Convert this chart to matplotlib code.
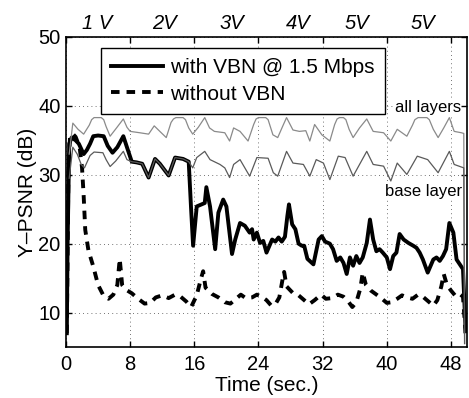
import matplotlib
matplotlib.use('Agg')
import matplotlib.pyplot as plt
from matplotlib.transforms import blended_transform_factory

plt.rcParams['font.family'] = ['Liberation Sans', 'DejaVu Sans']

# ---------------- data ----------------
vbn_t = [0.1, 0.2, 0.4, 0.7, 1.2, 1.6, 2.2, 2.6, 3.0, 3.4, 4.0, 4.7, 5.2, 5.8, 6.4, 7.15, 7.6,
         8.2, 8.8, 9.5, 10.3, 11.1, 11.7, 12.8, 13.6, 14.6, 15.3,
         15.6, 15.85, 16.3, 16.9, 17.3, 17.5, 17.96, 18.6, 19.0, 19.6, 20.0, 20.7, 21.1, 21.7,
         22.3, 22.9, 23.2, 23.4, 23.8, 24.2, 24.6, 25.0, 25.7, 26.1, 26.5, 26.9, 27.3, 27.6, 27.8,
         28.2, 28.6, 29.0, 29.4, 29.7, 30.1, 30.85, 31.5, 31.9, 32.3, 32.9, 33.3, 33.75, 34.2,
         34.6, 35.0, 35.4, 35.8, 36.2, 36.6, 37.0, 37.5, 37.9, 38.3, 38.7, 39.1, 39.5, 40.0, 40.4,
         40.8, 41.2, 41.6, 42.1, 42.7, 43.3, 43.7, 44.1, 44.5, 45.1, 45.8, 46.2, 46.6, 47.0, 47.4,
         47.8, 48.3, 48.7, 49.1, 49.5, 49.8]
vbn_y = [7.0, 20.0, 34.5, 35.4, 35.0, 34.5, 33.0, 33.6, 34.5, 35.6, 35.7, 35.6, 34.2, 33.2, 34.0, 35.6, 34.0,
         31.9, 31.8, 31.6, 29.6, 32.3, 31.6, 29.9, 32.5, 32.3, 31.9,
         25.0, 19.7, 25.4, 25.7, 25.9, 28.2, 25.4, 19.2, 24.5, 26.4, 25.4, 18.5, 20.6, 23.0,
         22.6, 21.6, 22.1, 20.6, 21.6, 20.1, 20.4, 18.7, 20.6, 20.3, 20.9, 20.3, 21.0, 24.0, 25.7,
         22.8, 22.1, 20.0, 19.7, 19.7, 17.8, 17.0, 20.6, 21.1, 20.3, 20.0, 19.2, 17.5, 18.0,
         17.2, 15.6, 18.0, 16.8, 18.2, 17.2, 18.0, 20.1, 23.5, 20.6, 18.9, 19.2, 18.7, 18.0, 16.3,
         18.2, 18.7, 21.4, 20.6, 20.1, 19.7, 19.4, 18.7, 17.7, 15.8, 17.7, 18.0, 17.5, 18.2, 19.2,
         23.0, 21.6, 17.7, 17.0, 16.3, 8.0]

novbn_t = [0.1, 0.3, 0.5, 0.8, 1.2, 1.7, 2.0, 2.2, 2.4, 2.8, 3.4, 4.0, 4.7, 5.3, 5.9, 6.4, 6.7,
           7.0, 7.5, 8.2, 9.0, 9.8, 10.5, 11.2, 12.0, 12.8, 13.6, 14.3, 15.0, 15.6, 16.3, 16.8,
           17.1, 17.4, 18.2, 19.0, 19.8, 20.5, 21.2, 21.8, 22.4, 23.2, 23.8, 24.4, 25.0, 25.6,
           26.1, 26.6, 27.0, 27.2, 27.5, 28.4, 29.0, 29.7, 30.3, 31.0, 31.8, 32.4, 33.2, 33.9,
           34.6, 35.2, 35.7, 36.2, 36.7, 37.0, 37.4, 38.0, 38.6, 39.4, 40.0, 40.6, 41.3, 41.9,
           42.5, 43.2, 43.9, 44.5, 45.2, 45.8, 46.3, 46.8, 47.1, 47.5, 48.0, 48.5, 49.0, 49.5,
           49.7, 49.85]
novbn_y = [7.0, 30.0, 35.5, 36.0, 35.5, 34.0, 31.0, 27.0, 22.0, 19.0, 16.7, 14.0, 12.4, 12.0, 12.6, 14.0, 17.8,
           14.0, 13.3, 12.8, 12.0, 11.3, 11.4, 12.2, 12.5, 12.1, 12.6, 12.3, 11.6, 10.8, 12.5, 14.8,
           16.0, 13.6, 12.7, 12.2, 11.5, 11.3, 12.0, 12.6, 12.1, 12.2, 12.6, 12.3, 11.8, 11.0,
           11.2, 12.2, 14.8, 15.9, 13.8, 12.7, 12.5, 11.8, 11.2, 11.8, 12.6, 12.0, 12.1, 12.6,
           12.3, 11.6, 10.8, 11.5, 13.5, 15.8, 14.0, 13.2, 12.7, 12.0, 11.4, 11.5, 12.0, 12.5,
           12.2, 12.0, 12.6, 12.3, 11.6, 11.0, 11.8, 13.8, 15.6, 14.0, 13.2, 12.5, 12.8, 12.3,
           9.0, 6.0]

all_t = [0.4, 0.85, 1.5, 2.2, 2.9, 3.2, 3.5, 4.4, 4.7, 5.0, 5.5, 6.3, 7.15, 7.6, 8.0, 9.2, 10.3, 11.0,
         11.7, 12.5, 13.1, 13.4, 13.7, 14.6, 14.9, 15.3, 15.8, 16.5, 17.3, 17.9, 18.5, 19.8, 20.4, 20.9,
         21.7, 22.7, 23.4, 23.7, 24.0, 24.9, 25.2, 25.8, 26.4, 27.0, 27.5, 28.3, 29.1, 29.9, 30.4, 31.0,
         31.9, 32.9, 33.5, 33.8, 34.1, 34.6, 34.9, 35.3, 35.8, 36.6, 37.5, 38.3, 39.6, 40.5, 41.3, 42.5,
         43.2, 43.5, 43.9, 45.0, 45.3, 45.8, 46.4, 47.1, 47.8, 48.4, 49.3, 49.6, 49.7]
all_y = [33.0, 37.5, 36.6, 35.9, 37.2, 38.0, 38.3, 38.3, 38.0, 37.0, 35.6, 36.8, 38.1, 36.9, 36.3, 36.1, 35.9, 37.1,
         36.3, 35.4, 37.6, 38.1, 38.3, 38.3, 38.0, 36.8, 35.9, 36.9, 38.3, 36.8, 36.3, 36.1, 34.9, 36.8,
         36.3, 34.9, 37.3, 38.1, 38.3, 38.3, 38.0, 35.8, 35.4, 37.0, 38.3, 36.5, 36.3, 36.4, 34.9, 37.3,
         35.8, 34.9, 37.3, 38.1, 38.3, 38.3, 38.0, 36.6, 35.4, 36.8, 38.1, 36.3, 36.1, 34.9, 36.6, 35.6,
         37.2, 38.0, 38.3, 38.3, 38.0, 36.6, 35.4, 36.8, 38.3, 36.3, 36.1, 36.0, 5.5]

base_t = [0.4, 0.85, 1.4, 1.9, 2.3, 3.0, 3.5, 4.6, 5.0, 5.5, 6.2, 7.15, 7.6, 8.2, 8.8, 9.5,
          10.3, 11.1, 11.7, 12.8, 13.6, 14.6, 15.3, 15.8, 16.3, 17.3, 17.96, 19.2, 19.8, 20.4,
          20.9, 21.7, 22.9, 23.8, 25.2, 25.85, 26.4, 27.5, 28.3, 29.6, 30.4, 31.2, 32.1, 32.9,
          33.95, 34.8, 35.8, 37.5, 38.3, 39.6, 40.5, 41.3, 42.5, 43.8, 45.1, 46.4, 47.8, 48.4,
          49.6, 49.7]
base_y = [29.5, 34.0, 33.0, 31.5, 31.0, 32.8, 33.3, 33.2, 32.2, 31.2, 32.0, 33.4, 32.2, 31.9, 31.8, 31.6,
          29.6, 32.3, 31.6, 29.9, 32.5, 32.3, 31.9, 31.0, 32.5, 33.4, 32.2, 31.5, 31.0, 29.6,
          31.5, 32.2, 29.8, 32.5, 32.4, 30.3, 29.8, 33.4, 31.7, 31.5, 29.8, 32.2, 31.7, 29.3,
          32.7, 32.5, 29.8, 33.4, 31.5, 31.25, 29.1, 31.7, 30.05, 32.7, 32.2, 30.3, 33.4, 31.5,
          31.0, 5.5]

x_ticks = [0, 8, 16, 24, 32, 40, 48]
y_ticks = [10, 20, 30, 40, 50]
top_labels = ['1 V', '2V', '3V', '4V', '5V', '5V']
top_label_x = [3.9, 12.3, 20.7, 29.0, 36.3, 44.5]

# ---------------- figure ----------------
fig = plt.figure(figsize=(4.69, 3.98), dpi=100)
ax = fig.add_axes([66/469, 51/398, 401/469, 310/398])

ax.plot(vbn_t, vbn_y, color='black', lw=2.8, solid_joinstyle='round',
        label='with VBN @ 1.5 Mbps', zorder=3)
ax.plot(novbn_t, novbn_y, color='black', lw=2.8, dashes=(2.2, 1.8),
        label='without VBN', zorder=3)
ax.plot(all_t, all_y, color='#8a8a8a', lw=0.9, zorder=4)
ax.plot(base_t, base_y, color='#5a5a5a', lw=0.9, zorder=4)

ax.set_xlim(0, 50)
ax.set_ylim(5, 50)
ax.set_xticks(x_ticks)
ax.set_yticks(y_ticks)
ax.grid(True, linestyle=(0, (1, 4)), color='#444444', lw=0.6)
ax.set_axisbelow(True)
ax.tick_params(direction='in', top=True, right=True, length=4, width=1, labelsize=14.5)
ax.tick_params(axis='x', pad=6)
ax.tick_params(axis='y', pad=4)
for s in ax.spines.values():
    s.set_linewidth(1.2)

ax.set_xlabel('Time (sec.)', fontsize=15, labelpad=1)
ax.set_ylabel('Y\u2013PSNR (dB)', fontsize=15, labelpad=1)

leg = ax.legend(loc='upper left', bbox_to_anchor=(0.087, 0.965), borderaxespad=0,
                frameon=True, fancybox=False, edgecolor='black', framealpha=1,
                fontsize=15, handlelength=2.5, handletextpad=0.33, borderpad=0.5,
                labelspacing=0.35)
leg.get_frame().set_linewidth(1.0)

ax.text(45.1, 39.8, 'all layers', fontsize=12, ha='center', va='center', zorder=5,
        bbox=dict(facecolor='white', edgecolor='none', pad=0.5))
ax.text(44.6, 27.5, 'base layer', fontsize=12, ha='center', va='center', zorder=5,
        bbox=dict(facecolor='white', edgecolor='none', pad=0.5))

trans = blended_transform_factory(ax.transData, ax.transAxes)
for lx, lab in zip(top_label_x, top_labels):
    ax.text(lx, 1.045, lab, transform=trans, fontsize=14.5, style='italic',
            ha='center', va='center')

fig.savefig('out.png', dpi=100)
